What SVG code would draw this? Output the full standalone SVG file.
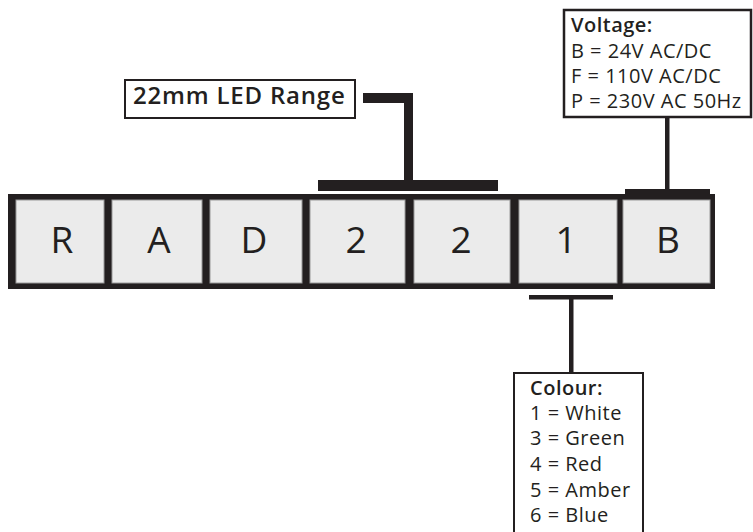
<svg xmlns="http://www.w3.org/2000/svg" width="753" height="532" viewBox="0 0 753 532">
<style>
.cell{fill:#ebebeb;stroke:#9a9a9a;stroke-width:1}
.big{font-family:"Open Sans","Liberation Sans",sans-serif;font-size:37px;font-weight:500;fill:#231f20;text-anchor:middle;letter-spacing:0}
.lbl{fill:#fff;stroke:#231f20;stroke-width:2}
.t{font-family:"Open Sans","Liberation Sans",sans-serif;font-size:20px;fill:#231f20;letter-spacing:0.5px}
.b{font-weight:600}
.c{fill:#231f20}
</style>
<rect width="753" height="532" fill="#fff"/>
<g id="frame"><rect x="8" y="194" width="707" height="95" class="c"/></g>
<g id="cell-R"><rect class="cell" x="16" y="200" width="88" height="83"/><text class="big" x="62" y="253">R</text></g>
<g id="cell-A"><rect class="cell" x="112" y="200" width="90" height="83"/><text class="big" x="159" y="253">A</text></g>
<g id="cell-D"><rect class="cell" x="210" y="200" width="92" height="83"/><text class="big" x="254" y="253">D</text></g>
<g id="cell-2a"><rect class="cell" x="310" y="200" width="95" height="83"/><text class="big" x="356" y="253">2</text></g>
<g id="cell-2b"><rect class="cell" x="414" y="200" width="96" height="83"/><text class="big" x="461" y="253">2</text></g>
<g id="cell-1"><rect class="cell" x="519" y="200" width="98" height="83"/><text class="big" x="566" y="253">1</text></g>
<g id="cell-B"><rect class="cell" x="623" y="200" width="87" height="83"/><text class="big" x="668" y="253">B</text></g>
<g id="connectors">
<rect class="c" x="318" y="180" width="180" height="11"/>
<rect class="c" x="404" y="93" width="9" height="90"/>
<rect class="c" x="363" y="93" width="50" height="10"/>
<rect class="c" x="625" y="189" width="85" height="5"/>
<rect class="c" x="665" y="117" width="4.5" height="74"/>
<rect class="c" x="529" y="295" width="84" height="4.5"/>
<rect class="c" x="569" y="297" width="4.5" height="76"/>
</g>
<g id="label-range">
<rect class="lbl" x="125" y="80" width="230" height="38"/>
<text class="t b" x="133" y="104" style="font-size:24px;letter-spacing:0.8px">22mm LED Range</text>
</g>
<g id="label-voltage">
<rect class="lbl" x="564" y="10" width="187" height="107" style="stroke-width:2.5"/>
<text class="t b" x="571" y="32">Voltage:</text>
<text class="t" x="571" y="58">B = 24V AC/DC</text>
<text class="t" x="571" y="83">F = 110V AC/DC</text>
<text class="t" x="571" y="108">P = 230V AC 50Hz</text>
</g>
<g id="label-colour">
<rect class="lbl" x="514" y="373" width="129" height="170"/>
<text class="t b" x="530" y="395">Colour:</text>
<text class="t" x="530" y="420">1 = White</text>
<text class="t" x="530" y="445">3 = Green</text>
<text class="t" x="530" y="471">4 = Red</text>
<text class="t" x="530" y="497">5 = Amber</text>
<text class="t" x="530" y="522">6 = Blue</text>
</g>
</svg>
